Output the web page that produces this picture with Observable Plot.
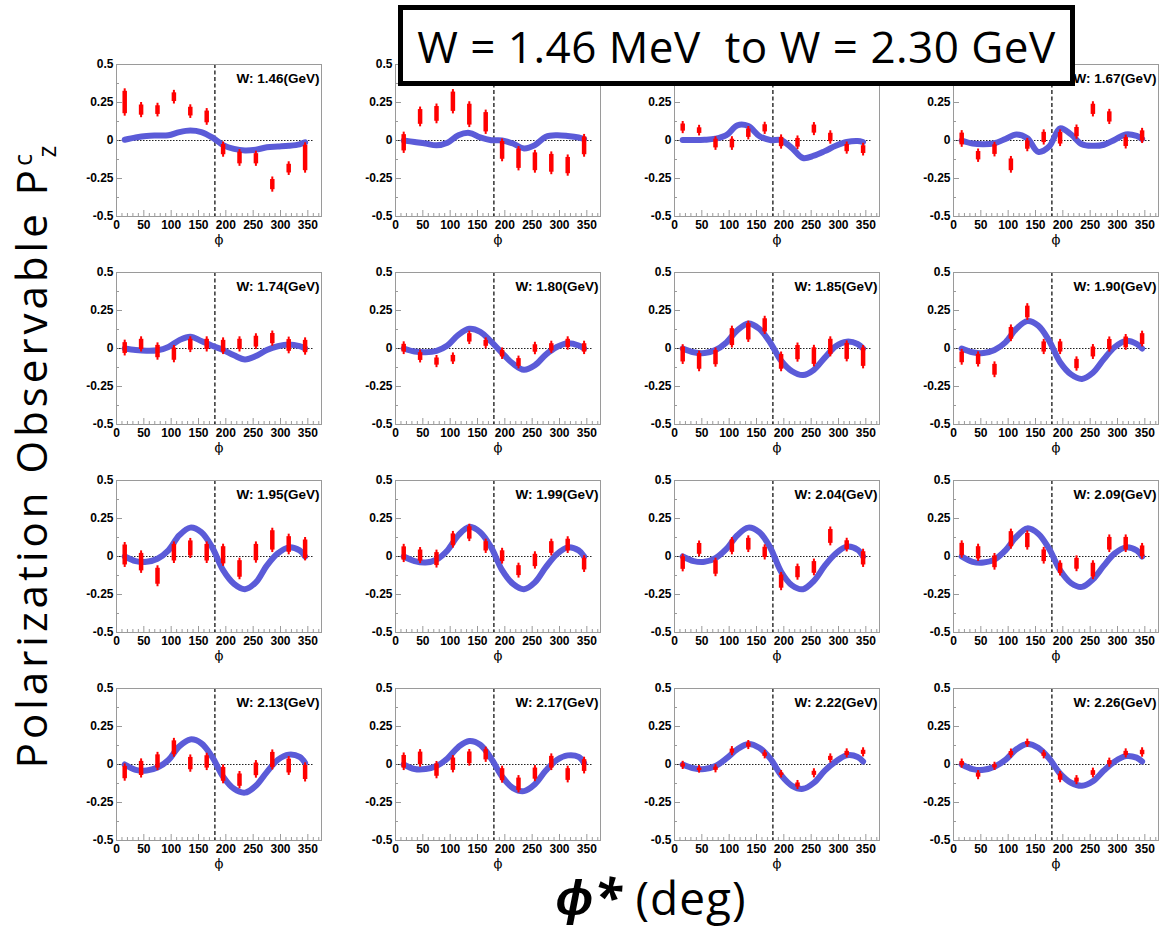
<!DOCTYPE html>
<html><head><meta charset="utf-8">
<script src="https://cdn.jsdelivr.net/npm/d3@7"></script>
<script src="https://cdn.jsdelivr.net/npm/@observablehq/plot@0.6"></script>
<style>
body{margin:0;background:#fff;}
#wrap{position:relative;width:1168px;height:931px;overflow:hidden;background:#fff;}
.panel{position:absolute;}
#title{position:absolute;left:398px;top:5px;width:667px;height:71px;border:5px solid #000;background:#fff;display:flex;align-items:center;justify-content:center;font-family:"Comic Sans MS","Open Sans",sans-serif;font-size:44px;letter-spacing:0.5px;white-space:pre;color:#000;z-index:5;}
#ylab{position:absolute;left:35px;top:455px;transform:translate(-50%,-50%) rotate(-90deg);font-family:"Comic Sans MS","Open Sans",sans-serif;font-size:42px;line-height:1;white-space:nowrap;color:#000;letter-spacing:4px;}
#ylab sup,#ylab sub{font-size:60%;}
#xlab{position:absolute;left:651px;top:896px;transform:translate(-50%,-50%);font-family:"Comic Sans MS","Open Sans",sans-serif;font-size:46px;line-height:1;white-space:nowrap;color:#000;letter-spacing:1px;}
#xlab b{font-size:50px;}
</style></head>
<body><div id="wrap">
<div id="ylab">Polarization Observable P<sup>c</sup><sub style="margin-left:-0.3em">z</sub></div>
<div id="xlab"><b><i>ϕ*</i></b> (deg)</div>
<div id="title">W = 1.46 MeV  to W = 2.30 GeV</div>
</div>
<script>
const wLabels = ["1.46","1.53","1.60","1.67","1.74","1.80","1.85","1.90","1.95","1.99","2.04","2.09","2.13","2.17","2.22","2.26"];
const phiPoints = [15,45,75,105,135,165,195,225,255,285,315,345];
const curvePhi = [15,35,55,75,95,115,135,155,175,195,215,235,255,275,295,315,335,345];
const xTicks = [0,50,100,150,200,250,300,350];
const xMinor = [10,20,30,40,60,70,80,90,110,120,130,140,160,170,180,190,210,220,230,240,260,270,280,290,310,320,330,340,360,370];
const yTicks = [-0.5,-0.25,0,0.25,0.5];
const yMinor = [-0.375,-0.125,0.125,0.375];
const xDomain = [0,375];
const yDomain = [-0.5,0.5];

const pValues = [
 [0.25,0.20,0.20,0.285,0.19,0.155,-0.06,-0.115,-0.12,-0.29,-0.185,-0.115],
 [-0.015,0.155,0.175,0.255,0.17,0.12,-0.065,-0.12,-0.14,-0.15,-0.165,-0.035],
 [0.085,0.065,-0.02,-0.02,0.048,0.08,-0.01,-0.015,0.075,0.02,-0.05,-0.06],
 [0.01,-0.10,-0.06,-0.16,-0.03,0.02,0.015,0.055,0.205,0.155,-0.01,0.03],
 [0.003,0.027,-0.02,-0.037,0.025,0.027,0.015,0.027,0.045,0.065,0.02,0.013],
 [0.002,-0.053,-0.086,-0.067,0.07,0.034,-0.034,-0.092,0.0,0.008,0.033,0.004],
 [-0.04,-0.085,-0.06,0.075,0.11,0.152,-0.088,-0.027,-0.05,0.011,-0.019,-0.057],
 [-0.058,-0.072,-0.14,0.1,0.24,0.01,0.01,-0.102,-0.023,0.026,0.04,0.062],
 [0.01,-0.037,-0.13,0.025,0.053,0.025,0.008,-0.082,0.026,0.106,0.079,0.048],
 [0.02,0.006,-0.017,0.11,0.155,0.067,0.002,-0.093,-0.026,0.059,0.075,-0.05],
 [-0.043,0.05,-0.072,0.068,0.081,0.027,-0.165,-0.103,-0.072,0.132,0.075,-0.012],
 [0.046,0.024,-0.035,0.114,0.105,0.005,-0.078,-0.048,-0.09,0.084,0.084,0.034],
 [-0.053,-0.026,0.02,0.11,0.006,0.017,-0.065,-0.103,-0.032,0.03,-0.01,-0.052],
 [0.018,0.04,-0.037,0.002,0.044,0.064,-0.067,-0.13,-0.06,0.015,-0.066,-0.007],
 [-0.006,-0.032,-0.028,0.088,0.128,0.065,-0.064,-0.135,-0.058,0.04,0.073,0.08],
 [0.006,-0.07,-0.012,0.072,0.14,0.065,-0.083,-0.103,-0.056,0.012,0.073,0.079]
];
const pErrors = [
 [0.09,0.05,0.045,0.045,0.045,0.055,0.05,0.055,0.05,0.05,0.045,0.1],
 [0.07,0.065,0.065,0.08,0.085,0.08,0.075,0.08,0.075,0.075,0.07,0.075],
 [0.04,0.035,0.045,0.045,0.044,0.04,0.047,0.045,0.043,0.044,0.04,0.042],
 [0.055,0.044,0.048,0.055,0.044,0.05,0.055,0.047,0.05,0.05,0.046,0.05],
 [0.052,0.05,0.057,0.057,0.052,0.05,0.055,0.05,0.052,0.05,0.055,0.057],
 [0.042,0.042,0.04,0.038,0.044,0.036,0.038,0.042,0.041,0.04,0.044,0.044],
 [0.065,0.068,0.063,0.072,0.07,0.06,0.065,0.063,0.071,0.066,0.069,0.077],
 [0.052,0.05,0.052,0.055,0.055,0.05,0.05,0.047,0.049,0.05,0.052,0.052],
 [0.082,0.074,0.069,0.071,0.066,0.071,0.073,0.071,0.07,0.08,0.068,0.077],
 [0.06,0.053,0.059,0.055,0.057,0.047,0.052,0.049,0.057,0.055,0.055,0.055],
 [0.058,0.052,0.061,0.057,0.055,0.05,0.06,0.053,0.055,0.062,0.045,0.06],
 [0.057,0.057,0.055,0.066,0.063,0.055,0.05,0.052,0.062,0.058,0.058,0.052],
 [0.057,0.063,0.06,0.062,0.057,0.057,0.062,0.057,0.058,0.066,0.062,0.063],
 [0.058,0.058,0.057,0.057,0.055,0.05,0.056,0.057,0.053,0.055,0.055,0.055],
 [0.027,0.025,0.027,0.03,0.03,0.028,0.025,0.03,0.03,0.03,0.03,0.03],
 [0.03,0.03,0.027,0.03,0.027,0.028,0.037,0.03,0.032,0.03,0.03,0.031]
];
const curveValues = [
 [0.005,0.02,0.03,0.033,0.035,0.055,0.065,0.055,0.02,-0.03,-0.055,-0.065,-0.06,-0.045,-0.04,-0.035,-0.025,-0.012],
 [0,-0.01,-0.02,-0.032,-0.015,0.035,0.05,0.02,0.002,0,-0.02,-0.052,-0.03,0.025,0.035,0.03,0.02,0.01],
 [0.003,0.003,0.005,0.012,0.035,0.1,0.095,0.03,0.003,0.003,-0.05,-0.115,-0.1,-0.07,-0.035,-0.01,-0.003,-0.01],
 [0,-0.02,-0.025,-0.018,0.01,0.04,0.015,-0.075,-0.04,0.08,0.04,-0.025,-0.035,-0.028,0.005,0.04,0.03,0.01],
 [0,-0.01,-0.015,-0.012,0.01,0.055,0.078,0.05,0.018,-0.01,-0.045,-0.072,-0.05,-0.01,0.015,0.026,0.015,0.0],
 [0,-0.02,-0.025,-0.015,0.02,0.09,0.13,0.11,0.045,-0.03,-0.1,-0.14,-0.11,-0.04,0.01,0.035,0.02,0.0],
 [0,-0.025,-0.03,-0.01,0.04,0.12,0.165,0.13,0.04,-0.08,-0.15,-0.175,-0.14,-0.06,0.015,0.045,0.03,0.0],
 [0,-0.025,-0.03,-0.01,0.04,0.13,0.18,0.15,0.05,-0.09,-0.17,-0.2,-0.16,-0.07,0.01,0.05,0.03,0.0],
 [0,-0.03,-0.035,-0.015,0.04,0.14,0.19,0.16,0.06,-0.09,-0.18,-0.215,-0.17,-0.06,0.02,0.06,0.04,0.0],
 [0,-0.03,-0.04,-0.02,0.04,0.14,0.195,0.16,0.06,-0.09,-0.18,-0.215,-0.17,-0.07,0.015,0.06,0.04,0.0],
 [0,-0.03,-0.035,-0.01,0.05,0.14,0.19,0.16,0.06,-0.1,-0.19,-0.215,-0.16,-0.06,0.02,0.065,0.045,0.0],
 [0,-0.035,-0.04,-0.02,0.04,0.13,0.185,0.15,0.05,-0.09,-0.175,-0.2,-0.15,-0.06,0.02,0.06,0.04,0.0],
 [0,-0.035,-0.04,-0.02,0.03,0.12,0.165,0.14,0.05,-0.08,-0.16,-0.185,-0.14,-0.05,0.03,0.065,0.05,0.01],
 [0,-0.03,-0.03,-0.01,0.04,0.115,0.155,0.13,0.04,-0.08,-0.155,-0.175,-0.13,-0.04,0.03,0.06,0.05,0.01],
 [0,-0.025,-0.03,-0.01,0.04,0.1,0.135,0.11,0.04,-0.07,-0.14,-0.16,-0.12,-0.04,0.02,0.06,0.05,0.02],
 [0,-0.03,-0.035,-0.015,0.03,0.1,0.135,0.11,0.04,-0.06,-0.12,-0.14,-0.11,-0.04,0.02,0.055,0.045,0.02]
];

const wrap = document.getElementById("wrap");
const title = document.getElementById("title");
const FW = 205, FH = 152, ML = 50, MR = 8, MT = 10, MB = 40;
const frameColor = "#9a9a9a";

wLabels.forEach((w, i) => {
  const r = Math.floor(i / 4), c = i % 4;
  const pts = phiPoints.map((phi, k) => ({phi, v: pValues[i][k], e: pErrors[i][k]}));
  const crv = curvePhi.map((phi, k) => ({phi, v: curveValues[i][k]}));
  const plot = Plot.plot({
    width: ML + FW + MR, height: MT + FH + MB,
    marginLeft: ML, marginRight: MR, marginTop: MT, marginBottom: MB,
    x: {domain: xDomain},
    y: {domain: yDomain},
    style: {background: "transparent", fontFamily: "'Liberation Sans', Arial, sans-serif", fontSize: "12px", fontWeight: "bold", color: "#000", overflow: "visible"},
    marks: [
      Plot.ruleX(xMinor, {stroke: frameColor, insetTop: FH - 3}),
      Plot.ruleX(xTicks, {stroke: frameColor, insetTop: FH - 6}),
      Plot.ruleY(yMinor, {stroke: frameColor, insetRight: FW - 3}),
      Plot.ruleY(yTicks, {stroke: frameColor, insetRight: FW - 6}),
      Plot.axisX({ticks: xTicks, tickSize: 0, tickPadding: 4, tickFormat: d => String(d), label: null, fill: "#000"}),
      Plot.axisY({ticks: yTicks, tickSize: 0, tickPadding: 3, tickFormat: d => String(d), label: null, fill: "#000"}),
      Plot.ruleY([0], {stroke: "#222", strokeDasharray: "1.5,1.5", insetRight: 8}),
      Plot.ruleX([180], {stroke: "#000", strokeDasharray: "4,2.5", strokeWidth: 1.2}),
      Plot.line(crv, {x: "phi", y: "v", stroke: "#5b5bd8", strokeWidth: 6, curve: "catmull-rom"}),
      Plot.ruleX(pts, {x: "phi", y1: d => d.v + d.e, y2: d => d.v - d.e, stroke: "#ff0000", strokeWidth: 2}),
      Plot.ruleX(pts, {x: "phi", y1: d => d.v + d.e, y2: d => d.v - d.e, stroke: "#ff0000", strokeWidth: 4.5, insetTop: 2.5, insetBottom: 2.5}),
      Plot.frame({stroke: frameColor}),
      Plot.text([`W: ${w}(GeV)`], {frameAnchor: "top-right", text: d => d, dx: -2, dy: 9, fontSize: 13.5, fontWeight: "bold", fill: "#000"}),
      Plot.text(["ϕ"], {frameAnchor: "bottom", text: d => d, dy: 27, fontSize: 13, fontWeight: "normal", fontFamily: "'DejaVu Serif', serif", fill: "#000"})
    ]
  });
  plot.classList.add("panel");
  plot.style.left = (66 + 279 * c) + "px";
  plot.style.top = (54 + 208 * r) + "px";
  wrap.insertBefore(plot, title);
});
</script>
</body></html>
